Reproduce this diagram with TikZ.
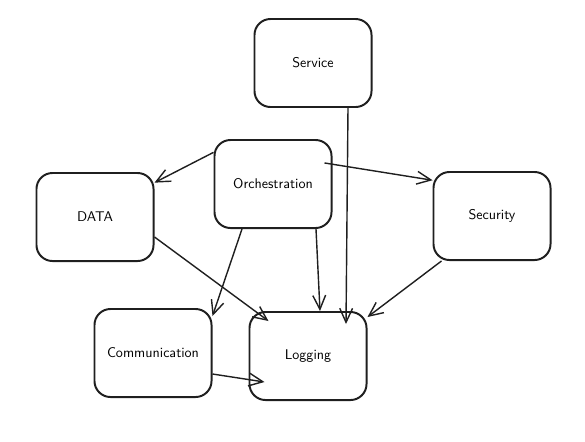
\documentclass[tikz,border=0pt]{standalone}
\usepackage{tikz}
\usetikzlibrary{arrows.meta, calc, positioning}

\begin{document}
\begin{tikzpicture}[x=0.025cm, y=-0.025cm,
    box/.style={draw=black!88, line width=1.4pt, rounded corners=0.4cm, minimum width=2.925cm, minimum height=2.2cm, font=\sffamily},
    link/.style={draw=black!88, line width=1pt, -{Straight Barb[length=3.5mm, width=3.2mm]}}]
    \useasboundingbox (0, 0) rectangle (585, 441);

    \node[box] (service) at (313, 63) {Service};
    \node[box] (orch) at (273, 184) {Orchestration};
    \node[box] (data) at (95, 217) {DATA};
    \node[box] (security) at (492, 216) {Security};
    \node[box] (comm) at (153, 353) {Communication};
    \node[box] (logging) at (308, 356) {Logging};

    \draw
    (orch.152) edge[link] (data.30)
    ($(orch.22)+(-8, 3)$) edge[link] (security.149)
    ($(service.south)+(35, 0)$) edge[link] ($(logging.north)+(38, 13)$)
    ($(orch.south)+(43, 0)$) edge[link] ($(logging.north)+(12, 0)$)
    ($(orch.south)+(-31, 0)$) edge[link] ($(comm.north east)+(0, 8)$)
    ($(data.east)+(0, 20)$) edge[link] ($(logging.north west)+(20, 10)$)
    ($(security.south west)+(9, 0)$) edge[link] ($(logging.north east)+(0, 6)$)
    ($(comm.east)+(0, 21)$) edge[link] ($(logging.west)+(16, 26)$);
\end{tikzpicture}
\end{document}
